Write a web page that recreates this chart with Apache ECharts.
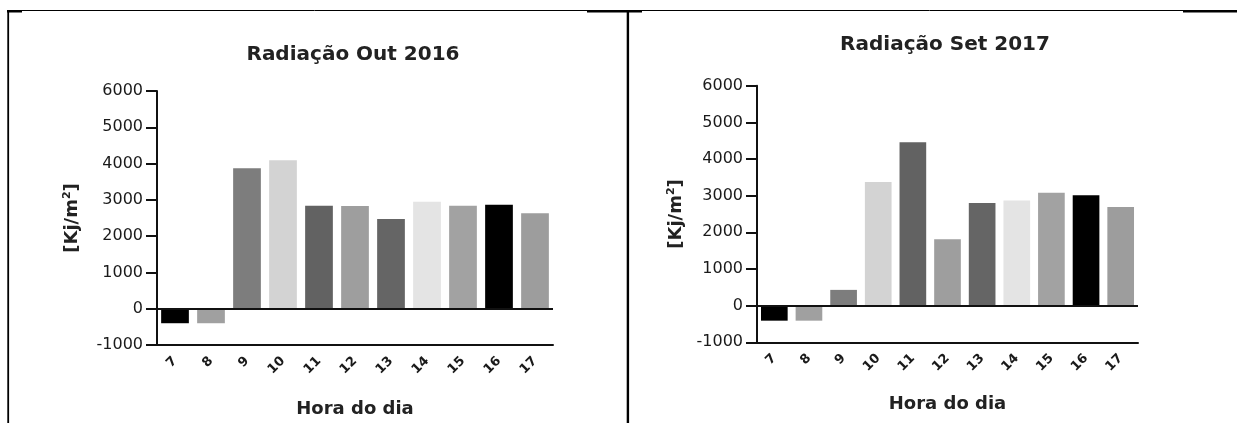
<!DOCTYPE html>
<html>
<head>
<meta charset="utf-8">
<title>Radiação</title>
<script src="https://cdn.jsdelivr.net/npm/echarts@6/dist/echarts.min.js"></script>
<style>
  html, body { margin: 0; padding: 0; background: #fff; }
  #chart { width: 1237px; height: 423px; }
</style>
</head>
<body>
<div id="chart"></div>
<script>
// Hour of day (categories)
const hours = ['7', '8', '9', '10', '11', '12', '13', '14', '15', '16', '17'];

// Radiation per hour [Kj/m²]
const radOut2016 = [-400, -400, 3870, 4090, 2840, 2830, 2470, 2950, 2840, 2865, 2630];
const radSet2017 = [-410, -410, 430, 3370, 4460, 1810, 2800, 2870, 3080, 3010, 2690];

// Y axis range
const yMin = -1000;
const yMax = 6000;
const yStep = 1000;

// Grey shade for each hour's bar
const shades = ['#000000', '#a0a0a0', '#7d7d7d', '#d3d3d3', '#626262', '#9e9e9e',
                '#656565', '#e4e4e4', '#a2a2a2', '#000000', '#9d9d9d'];

const FONT = 'DejaVu Sans';
const INK = '#111';

function makeXAxis(gridIndex, gap) {
  return {
    type: 'category',
    gridIndex: gridIndex,
    data: hours,
    axisLine: { onZero: false, lineStyle: { color: INK, width: 2 } },
    axisTick: { alignWithLabel: true, length: 7, lineStyle: { color: INK, width: 2 } },
    axisLabel: { rotate: 45, margin: 14, fontFamily: FONT, fontSize: 13, fontWeight: 'bold', color: '#1a1a1a', interval: 0 },
    name: 'Hora do dia',
    nameLocation: 'middle',
    nameGap: gap,
    nameTextStyle: { fontFamily: FONT, fontSize: 18, fontWeight: 'bold', color: '#222' }
  };
}

function makeYAxis(gridIndex, gap) {
  return {
    type: 'value',
    gridIndex: gridIndex,
    min: yMin,
    max: yMax,
    interval: yStep,
    splitLine: { show: false },
    axisLine: { show: true, lineStyle: { color: INK, width: 2 } },
    axisTick: { show: true, length: 11, lineStyle: { color: INK, width: 2 } },
    axisLabel: { margin: 14, fontFamily: FONT, fontSize: 16, color: '#1a1a1a', formatter: v => String(v) },
    name: '[Kj/m{sup|2}]',
    nameLocation: 'middle',
    nameRotate: 90,
    nameGap: gap,
    nameTextStyle: {
      fontFamily: FONT, fontSize: 18, fontWeight: 'bold', color: '#222',
      rich: { sup: { fontFamily: FONT, fontSize: 11, fontWeight: 'bold', color: '#222', verticalAlign: 'top', padding: [0, 0, 10, 0] } }
    }
  };
}

function makeSeries(index, values) {
  return {
    type: 'bar',
    xAxisIndex: index,
    yAxisIndex: index,
    data: values,
    barCategoryGap: '23%',
    itemStyle: { color: p => shades[p.dataIndex] },
    markLine: {
      silent: true,
      symbol: 'none',
      label: { show: false },
      lineStyle: { color: INK, width: 2, type: 'solid' },
      data: [{ yAxis: 0 }]
    }
  };
}

// Table frame around the two panels
const frame = [
  { type: 'line', shape: { x1: 7, y1: 10.5, x2: 1237, y2: 10.5 }, style: { stroke: '#000', lineWidth: 1 } },
  { type: 'rect', shape: { x: 7, y: 10, width: 15, height: 2.5 }, style: { fill: '#000' } },
  { type: 'rect', shape: { x: 587, y: 10, width: 55, height: 2.5 }, style: { fill: '#000' } },
  { type: 'rect', shape: { x: 1183, y: 10, width: 54, height: 2.5 }, style: { fill: '#000' } },
  { type: 'rect', shape: { x: 7.3, y: 10, width: 1.8, height: 413 }, style: { fill: '#000' } },
  { type: 'rect', shape: { x: 626.7, y: 10, width: 2.4, height: 413 }, style: { fill: '#000' } }
];

const chart = echarts.init(document.getElementById('chart'), null, { renderer: 'canvas' });
chart.setOption({
  animation: false,
  backgroundColor: '#fff',
  title: [
    { text: 'Radiação Out 2016', left: 353, top: 45, textAlign: 'center', padding: 0,
      textStyle: { fontFamily: FONT, fontSize: 20, fontWeight: 'bold', color: '#222' } },
    { text: 'Radiação Set 2017', left: 945, top: 35, textAlign: 'center', padding: 0,
      textStyle: { fontFamily: FONT, fontSize: 20, fontWeight: 'bold', color: '#222' } }
  ],
  grid: [
    { left: 157, top: 91, width: 396, height: 257.5 },
    { left: 757, top: 85.7, width: 381, height: 256.6 }
  ],
  xAxis: [makeXAxis(0, 55), makeXAxis(1, 53)],
  yAxis: [makeYAxis(0, 74), makeYAxis(1, 70)],
  series: [makeSeries(0, radOut2016), makeSeries(1, radSet2017)],
  graphic: frame
});
</script>
</body>
</html>
